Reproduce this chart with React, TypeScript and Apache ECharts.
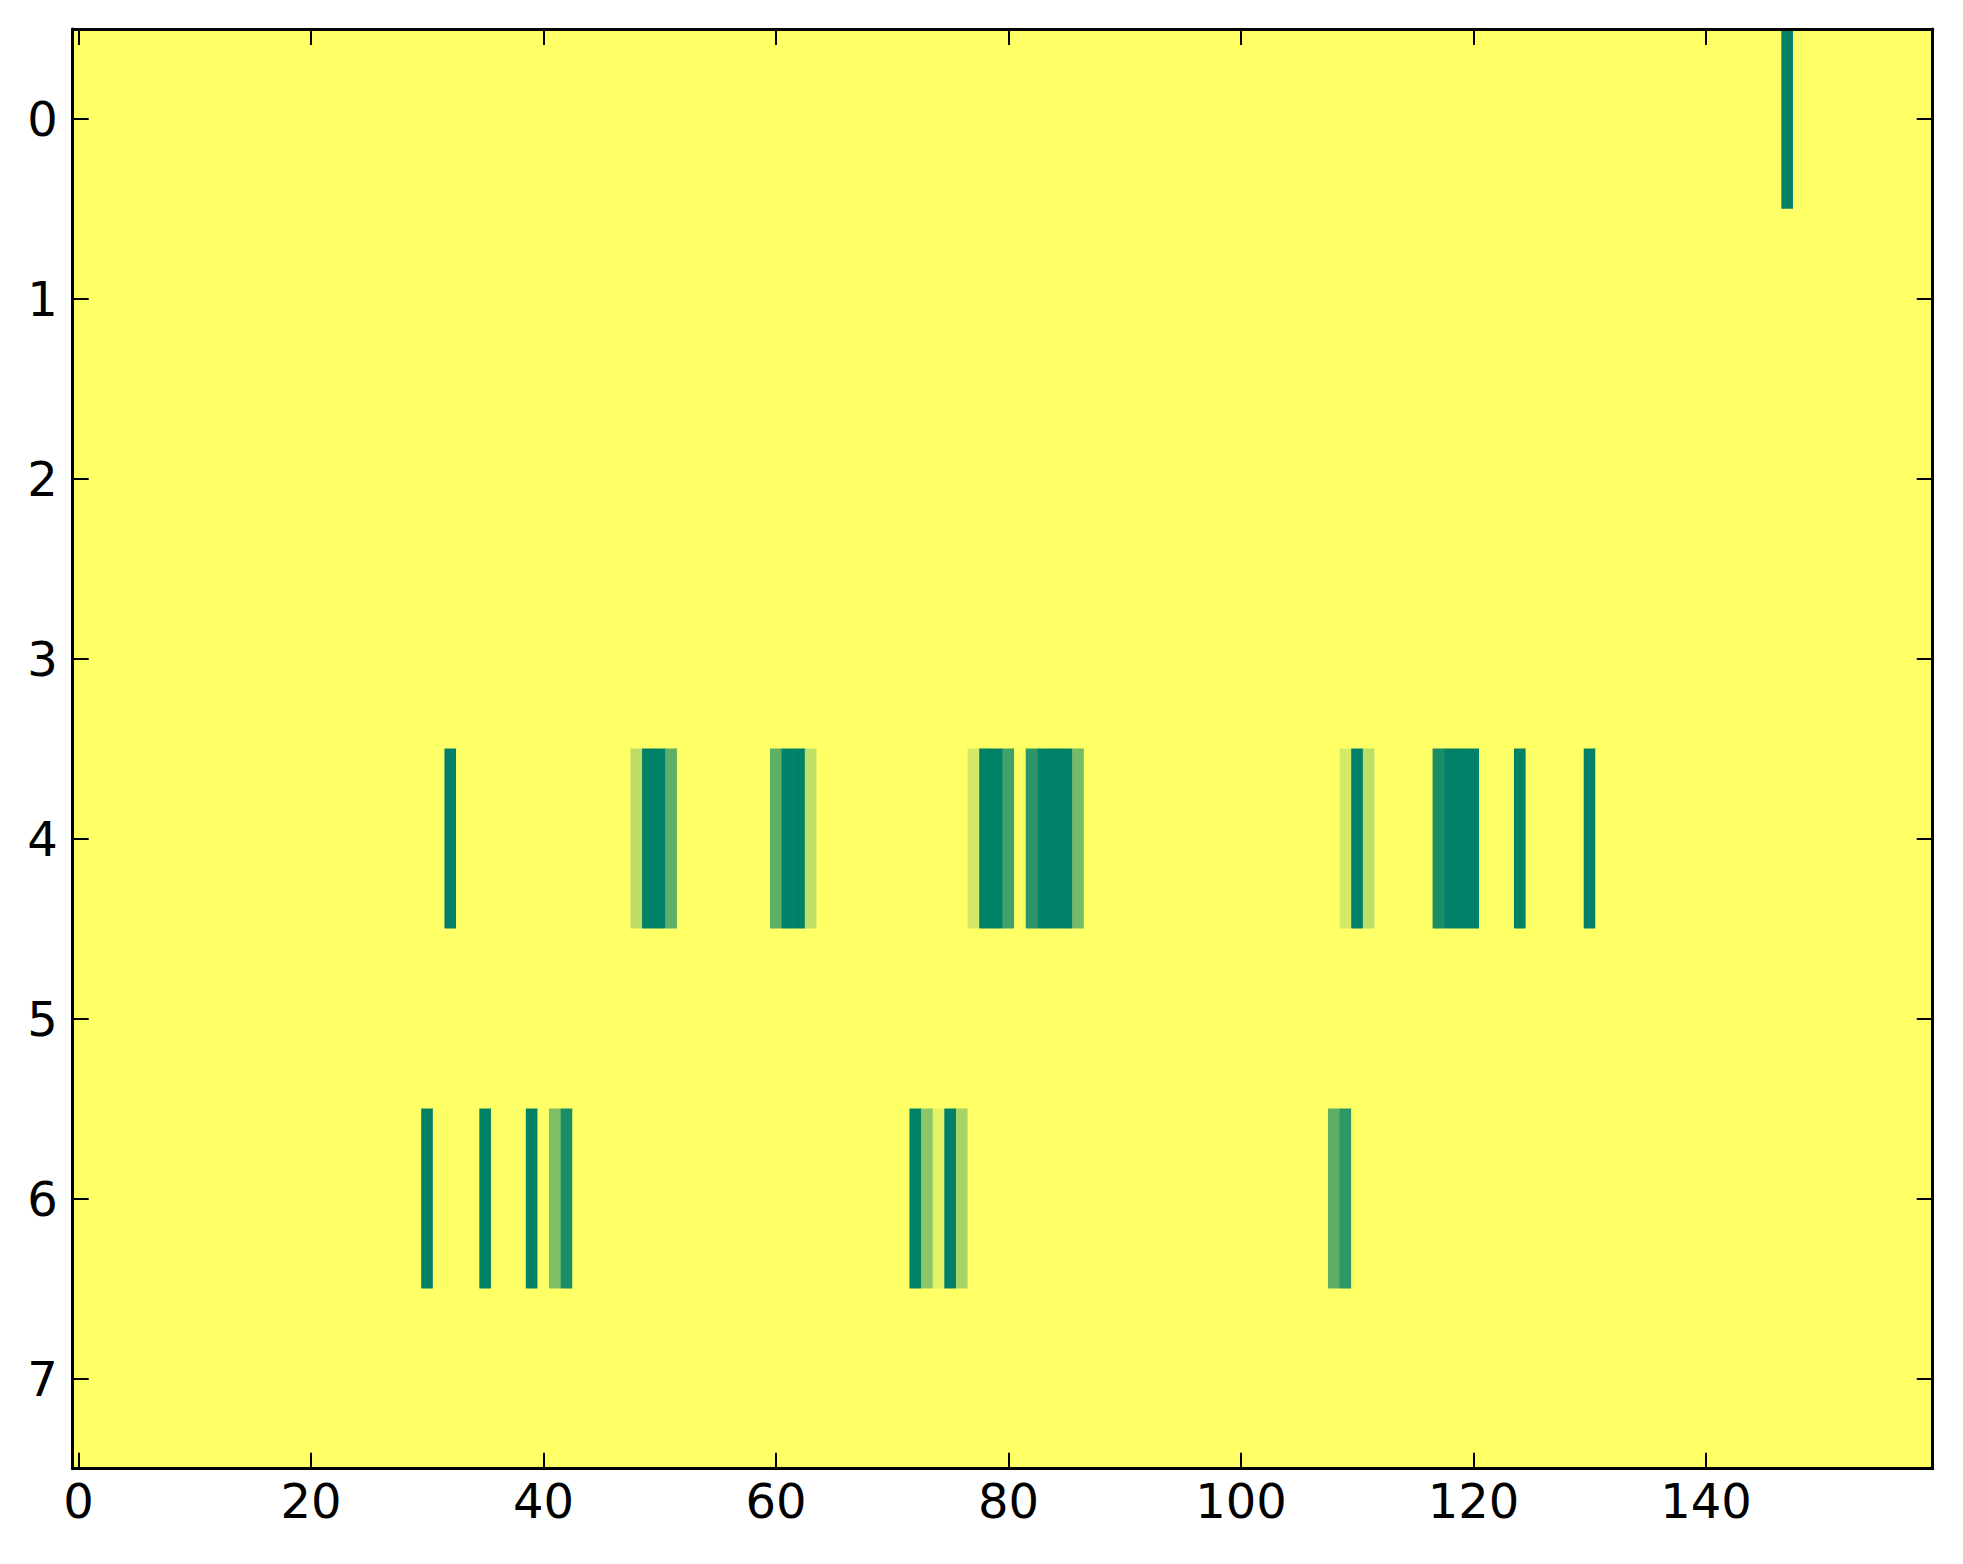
import { useEffect, useRef } from "react";
import * as echarts from "echarts";

// columns 0..159, rows 0..7
const columns = Array.from({ length: 160 }, (_, i) => String(i));
const rows = ["0", "1", "2", "3", "4", "5", "6", "7"];

// non-zero cells per row: [column, value]
const row0Cells: [number, number][] = [[147, 1]];
const row4Cells: [number, number][] = [
  [32, 1], [48, 0.26], [49, 1], [50, 1], [51, 0.63],
  [60, 0.63], [61, 1], [62, 1], [63, 0.25],
  [77, 0.17], [78, 1], [79, 1], [80, 0.74], [82, 0.83],
  [83, 1], [84, 1], [85, 1], [86, 0.54],
  [109, 0.17], [110, 1], [111, 0.26],
  [117, 0.9], [118, 1], [119, 1], [120, 1],
  [124, 1], [130, 1],
];
const row6Cells: [number, number][] = [
  [30, 1], [35, 1], [39, 1], [41, 0.51], [42, 0.9],
  [72, 1], [73, 0.45], [74, 0.1], [75, 1], [76, 0.34],
  [108, 0.63], [109, 0.82],
];

const cellsByRow: Record<number, [number, number][]> = {
  0: row0Cells,
  4: row4Cells,
  6: row6Cells,
};

function buildData() {
  const out: [number, number, number][] = [];
  for (let r = 0; r < rows.length; r++) {
    const lookup = new Map(cellsByRow[r] ?? []);
    for (let c = 0; c < columns.length; c++) {
      out.push([c, r, lookup.get(c) ?? 0]);
    }
  }
  return out;
}

const FONT = "DejaVu Sans";

export default function App() {
  const chartRef = useRef<HTMLDivElement>(null);

  useEffect(() => {
    if (!chartRef.current) return;
    const chart = echarts.init(chartRef.current, null, { renderer: "svg" });

    const tickCommon = {
      show: true,
      inside: true,
      length: 16,
      lineStyle: { color: "#000", width: 2 },
    };
    const lineCommon = { show: true, lineStyle: { color: "#000", width: 3 } };

    chart.setOption({
      animation: false,
      backgroundColor: "#fff",
      grid: { left: 72.7, top: 29, width: 1860, height: 1439.7, containLabel: false },
      visualMap: {
        show: false,
        min: 0,
        max: 1,
        dimension: 2,
        inRange: { color: ["#ffff66", "#008066"] },
      },
      xAxis: [
        {
          type: "category",
          data: columns,
          position: "bottom",
          z: 10,
          axisLine: lineCommon,
          axisTick: { ...tickCommon, interval: 19, alignWithLabel: true },
          axisLabel: {
            interval: 19,
            margin: 8,
            color: "#000",
            fontSize: 48,
            fontFamily: FONT,
          },
          splitLine: { show: false },
        },
        {
          type: "category",
          data: columns,
          position: "top",
          z: 10,
          axisLine: lineCommon,
          axisTick: { ...tickCommon, interval: 19, alignWithLabel: true },
          axisLabel: { show: false },
          splitLine: { show: false },
        },
      ],
      yAxis: [
        {
          type: "category",
          data: rows,
          inverse: true,
          position: "left",
          z: 10,
          axisLine: lineCommon,
          axisTick: { ...tickCommon, interval: 0, alignWithLabel: true },
          axisLabel: {
            interval: 0,
            margin: 15,
            color: "#000",
            fontSize: 48,
            fontFamily: FONT,
          },
          splitLine: { show: false },
        },
        {
          type: "category",
          data: rows,
          inverse: true,
          position: "right",
          z: 10,
          axisLine: lineCommon,
          axisTick: { ...tickCommon, interval: 0, alignWithLabel: true },
          axisLabel: { show: false },
          splitLine: { show: false },
        },
      ],
      series: [
        {
          type: "heatmap",
          xAxisIndex: 0,
          yAxisIndex: 0,
          data: buildData(),
          itemStyle: { borderWidth: 0 },
          emphasis: { disabled: true },
          progressive: 0,
        },
      ],
    });

    return () => chart.dispose();
  }, []);

  return (
    <div
      ref={chartRef}
      style={{ position: "fixed", left: 0, top: 0, width: 1963, height: 1564 }}
    />
  );
}
